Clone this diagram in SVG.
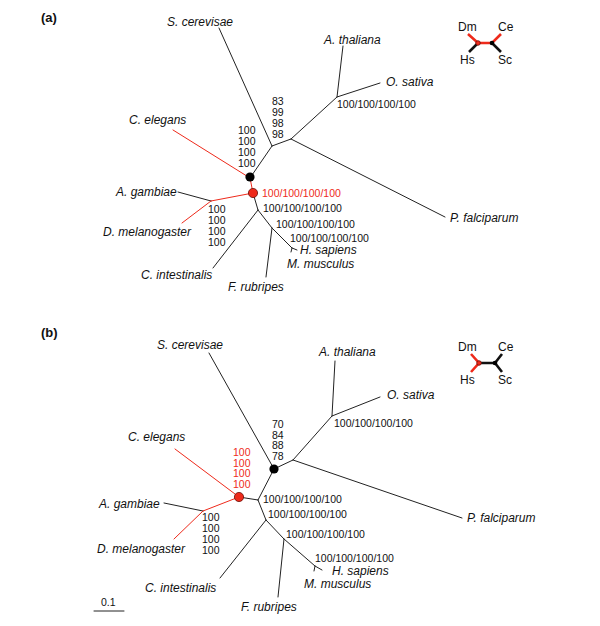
<svg xmlns="http://www.w3.org/2000/svg" width="600" height="626" viewBox="0 0 600 626">
<style>
text{font-family:"Liberation Sans",Arial,sans-serif;fill:#111}
.sp{font-size:12px;font-style:italic}
.n{font-size:10.5px}
.r{fill:#ee2a1b}
.pl{font-size:13px;font-weight:bold}
.ins{font-size:12px}
.e{stroke:#222;stroke-width:1;fill:none;stroke-linecap:round}
.er{stroke:#ee2a1b;stroke-width:1;fill:none;stroke-linecap:round}
.te{stroke:#111;stroke-width:2.6;fill:none}
.tr{stroke:#ee2a1b;stroke-width:2.6;fill:none}
.bd{fill:#000}
.rd{fill:#ee2a1b;stroke:#6a0d06;stroke-width:0.8}
</style>
<rect width="600" height="626" fill="#fff"/>

<!-- ================= Panel (a) ================= -->
<g id="panel-a">
<text class="pl" x="41" y="22">(a)</text>
<g id="a-connectors">
<path class="e" d="M219,28L272,146"/>
<path class="e" d="M272,146L291,139"/>
<path class="e" d="M272,146L250,178"/>
<path class="er" d="M173,130L250,178"/>
<path class="er" d="M250,178L253,193"/>
<path class="er" d="M253,193L211,201"/>
<path class="e" d="M178,192L211,201"/>
<path class="er" d="M211,201L182,223"/>
<path class="e" d="M253,193L258,210"/>
<path class="e" d="M258,210L213,268"/>
<path class="e" d="M258,210L272,228"/>
<path class="e" d="M272,228L266,277"/>
<path class="e" d="M272,228L292,248"/>
<path class="e" d="M292,248L297,250M292,248L291,252"/>
<path class="e" d="M291,139L337,97"/>
<path class="e" d="M337,97L343,46"/>
<path class="e" d="M337,97L380,83"/>
<path class="e" d="M291,139L445,217"/>
</g>
<g id="a-node-root"><circle class="bd" cx="250" cy="177" r="4.6"/></g>
<g id="a-node-red"><circle class="rd" cx="253" cy="193" r="4.6"/>
<text class="n r" x="262" y="197">100/100/100/100</text></g>
<g id="a-sc"><text class="sp" x="167" y="26">S. cerevisae</text></g>
<g id="a-ce"><text class="sp" x="129" y="124">C. elegans</text></g>
<g id="a-ag"><text class="sp" x="116" y="196">A. gambiae</text></g>
<g id="a-dm"><text class="sp" x="103" y="236">D. melanogaster</text></g>
<g id="a-ci"><text class="sp" x="141" y="279">C. intestinalis</text></g>
<g id="a-fr"><text class="sp" x="228" y="291">F. rubripes</text></g>
<g id="a-hs"><text class="sp" x="300" y="254">H. sapiens</text></g>
<g id="a-mm"><text class="sp" x="287" y="268">M. musculus</text></g>
<g id="a-at"><text class="sp" x="324" y="44">A. thaliana</text></g>
<g id="a-os"><text class="sp" x="386" y="86">O. sativa</text></g>
<g id="a-pf"><text class="sp" x="450" y="222">P. falciparum</text></g>
<g id="a-supports">
<text class="n" x="272" y="105"><tspan x="272">83</tspan><tspan x="272" dy="11">99</tspan><tspan x="272" dy="11">98</tspan><tspan x="272" dy="11">98</tspan></text>
<text class="n" x="238" y="134"><tspan x="238">100</tspan><tspan x="238" dy="11">100</tspan><tspan x="238" dy="11">100</tspan><tspan x="238" dy="11">100</tspan></text>
<text class="n" x="208" y="213"><tspan x="208">100</tspan><tspan x="208" dy="11">100</tspan><tspan x="208" dy="11">100</tspan><tspan x="208" dy="11">100</tspan></text>
<text class="n" x="263" y="212">100/100/100/100</text>
<text class="n" x="276" y="228">100/100/100/100</text>
<text class="n" x="290" y="242">100/100/100/100</text>
<text class="n" x="337" y="108">100/100/100/100</text>
</g>
<g id="a-inset">
<path class="tr" d="M468,34L478,43L492,43L501,34"/>
<path class="te" d="M478,43L469,52M492,43L501,52"/>
<circle class="rd" cx="478" cy="43" r="2.3"/>
<circle class="bd" cx="492" cy="43" r="2.3"/>
<text class="ins" x="458" y="31">Dm</text>
<text class="ins" x="498" y="31">Ce</text>
<text class="ins" x="460" y="64">Hs</text>
<text class="ins" x="498" y="64">Sc</text>
</g>
</g>

<!-- ================= Panel (b) ================= -->
<g id="panel-b">
<text class="pl" x="41" y="337">(b)</text>
<g id="b-connectors">
<path class="e" d="M209,353L274,469"/>
<path class="e" d="M274,469L293,460"/>
<path class="e" d="M293,460L332,416"/>
<path class="e" d="M332,416L335,361"/>
<path class="e" d="M332,416L380,397"/>
<path class="e" d="M293,460L462,518"/>
<path class="e" d="M274,469L258,500"/>
<path class="e" d="M258,500L239,497"/>
<path class="er" d="M175,449L239,497"/>
<path class="er" d="M239,497L203,511"/>
<path class="e" d="M164,503L203,511"/>
<path class="er" d="M203,511L174,539"/>
<path class="e" d="M258,500L266,520"/>
<path class="e" d="M266,520L220,578"/>
<path class="e" d="M266,520L284,539"/>
<path class="e" d="M284,539L278,597"/>
<path class="e" d="M284,539L315,566"/>
<path class="e" d="M315,566L322,570M315,566L314,571"/>
</g>
<g id="b-node-root"><circle class="bd" cx="274" cy="469" r="4.6"/></g>
<g id="b-node-red"><circle class="rd" cx="239" cy="497" r="4.6"/>
<text class="n r" x="233" y="456"><tspan x="233">100</tspan><tspan x="233" dy="10.7">100</tspan><tspan x="233" dy="10.7">100</tspan><tspan x="233" dy="10.7">100</tspan></text></g>
<g id="b-sc"><text class="sp" x="157" y="349">S. cerevisae</text></g>
<g id="b-ce"><text class="sp" x="128" y="441">C. elegans</text></g>
<g id="b-ag"><text class="sp" x="99" y="508">A. gambiae</text></g>
<g id="b-dm"><text class="sp" x="97" y="553">D. melanogaster</text></g>
<g id="b-ci"><text class="sp" x="145" y="592">C. intestinalis</text></g>
<g id="b-fr"><text class="sp" x="241" y="611">F. rubripes</text></g>
<g id="b-hs"><text class="sp" x="332" y="575">H. sapiens</text></g>
<g id="b-mm"><text class="sp" x="304" y="588">M. musculus</text></g>
<g id="b-at"><text class="sp" x="319" y="356">A. thaliana</text></g>
<g id="b-os"><text class="sp" x="387" y="399">O. sativa</text></g>
<g id="b-pf"><text class="sp" x="467" y="522">P. falciparum</text></g>
<g id="b-supports">
<text class="n" x="272" y="428"><tspan x="272">70</tspan><tspan x="272" dy="10.7">84</tspan><tspan x="272" dy="10.7">88</tspan><tspan x="272" dy="10.7">78</tspan></text>
<text class="n" x="202" y="521"><tspan x="202">100</tspan><tspan x="202" dy="11">100</tspan><tspan x="202" dy="11">100</tspan><tspan x="202" dy="11">100</tspan></text>
<text class="n" x="263" y="503">100/100/100/100</text>
<text class="n" x="268" y="518">100/100/100/100</text>
<text class="n" x="286" y="538">100/100/100/100</text>
<text class="n" x="315" y="562">100/100/100/100</text>
<text class="n" x="334" y="427">100/100/100/100</text>
</g>
<g id="b-inset">
<path class="tr" d="M471,354L479,363L471,372"/>
<path class="te" d="M479,363L495,363L502,354M495,363L502,372"/>
<circle class="rd" cx="479" cy="363" r="2.3"/>
<circle class="bd" cx="495" cy="363" r="2.3"/>
<text class="ins" x="458" y="351">Dm</text>
<text class="ins" x="498" y="351">Ce</text>
<text class="ins" x="460" y="384">Hs</text>
<text class="ins" x="498" y="384">Sc</text>
</g>
<g id="scale-bar">
<text class="n" x="101" y="606">0.1</text>
<path class="e" d="M94,611L124,611" stroke-linecap="butt"/>
</g>
</g>
</svg>
